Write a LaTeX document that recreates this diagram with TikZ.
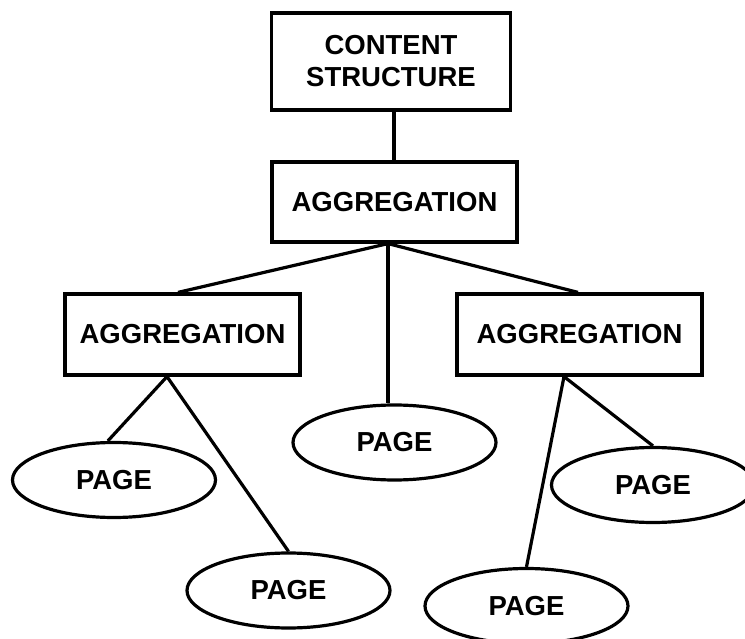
\documentclass[tikz,border=0pt]{standalone}
\usepackage{fontspec}
\setmainfont{Liberation Sans}
\usetikzlibrary{shapes.geometric}

\tikzset{
  label font/.style={font=\bfseries\fontsize{27.5}{32}\selectfont},
  box/.style={draw, rectangle, line width=3.2pt, inner sep=0pt, align=center, label font},
  pageoval/.style={draw, ellipse, line width=3.2pt, inner sep=0pt,
    minimum width=203pt, minimum height=75pt, label font},
  link/.style={line width=3.2pt}
}

\begin{document}
\begin{tikzpicture}[x=1pt, y=-1pt]
  \useasboundingbox (0,0) rectangle (745,639);

  % structure boxes
  \node[box, minimum width=239pt, minimum height=97pt] (cs) at (391,61.5)
    {CONTENT\\STRUCTURE};
  \node[box, minimum width=245pt, minimum height=80pt] (ag0) at (394.5,202) {AGGREGATION};
  \node[box, minimum width=235pt, minimum height=81pt] (ag1) at (182.5,334.5) {AGGREGATION};
  \node[box, minimum width=245pt, minimum height=81pt] (ag2) at (579.5,334.5) {AGGREGATION};

  % page ovals
  \node[pageoval] (p0) at (394.5,442.5) {PAGE};
  \node[pageoval] (p1) at (114,480) {PAGE};
  \node[pageoval] (p2) at (288.5,590.5) {PAGE};
  \node[pageoval] (p3) at (653,485) {PAGE};
  \node[pageoval] (p4) at (526.5,606) {PAGE};

  % attachment points on the lower edges of the boxes
  \coordinate (a0) at ([xshift=-6.5pt]ag0.south);
  \coordinate (a1) at ([xshift=-15.5pt]ag1.south);
  \coordinate (a2) at ([xshift=-15.5pt]ag2.south);

  % connectors
  \draw[link] ([xshift=3pt]cs.south) -- ([xshift=-0.5pt]ag0.north);
  \draw[link] (a0) -- ([xshift=-4.5pt]ag1.north);
  \draw[link] (a0) -- ([xshift=-1.5pt]ag2.north);
  \draw[link] (a0) -- (a0 |- p0.north);
  \draw[link] (a1) -- (p1.99);
  \draw[link] (a1) -- (p2.north);
  \draw[link] (a2) -- (p3.north);
  \draw[link] (a2) -- (p4.north);
\end{tikzpicture}
\end{document}
